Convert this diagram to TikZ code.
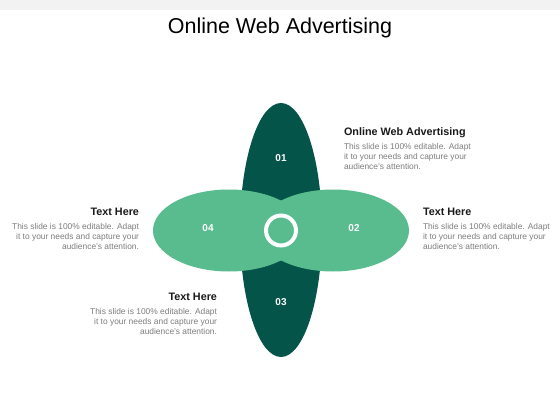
\documentclass[tikz,border=0pt]{standalone}
\usepackage{fontspec}
\setmainfont{Liberation Sans}
\definecolor{darkgreen}{RGB}{4,84,74}
\definecolor{lightgreen}{RGB}{88,188,142}
\definecolor{bodygray}{RGB}{125,125,125}
\definecolor{headblack}{RGB}{26,26,26}
\definecolor{bandgray}{RGB}{242,242,242}
\begin{document}
\begin{tikzpicture}[x=1pt,y=-1pt,
  every node/.style={inner sep=0pt,outer sep=0pt},
  title/.style={font=\fontsize{21.5}{24}\selectfont,text=black,anchor=base},
  head/.style={font=\fontsize{10.8}{12}\bfseries\selectfont,text=headblack},
  body/.style={font=\fontsize{8.4}{10}\selectfont,text=bodygray},
  num/.style={font=\fontsize{10}{12}\bfseries\selectfont,text=white,anchor=center}]
\useasboundingbox (0,0) rectangle (560,420);
\fill[white] (0,0) rectangle (560,420);
\fill[bandgray] (0,0) rectangle (560,10);
\node[title] (title) at (280,34) {Online Web Advertising};
% petals
\fill[darkgreen] (281,230) ellipse [x radius=41, y radius=127];
\fill[lightgreen] (229,230.5) ellipse [x radius=76, y radius=41];
\fill[lightgreen] (333,230.5) ellipse [x radius=76, y radius=41];
\draw[white,line width=4] (281,230.5) circle [radius=15];
\node[num] (n1) at (281,158) {01};
\node[num] (n2) at (354,228.5) {02};
\node[num] (n3) at (281,302) {03};
\node[num] (n4) at (208,228.5) {04};
% top right block
\node[head,anchor=base west] (h1) at (344,135.7) {Online Web Advertising};
\node[body,anchor=base west] (b1a) at (344,149) {This slide is 100\% editable.  Adapt};
\node[body,anchor=base west] (b1b) at (344,159.3) {it to your needs and capture your};
\node[body,anchor=base west] (b1c) at (344,169.3) {audience's attention.};
% right block
\node[head,anchor=base west] (h2) at (423,215.7) {Text Here};
\node[body,anchor=base west] (b2a) at (423,229) {This slide is 100\% editable.  Adapt};
\node[body,anchor=base west] (b2b) at (423,239.3) {it to your needs and capture your};
\node[body,anchor=base west] (b2c) at (423,249.3) {audience's attention.};
% left block
\node[head,anchor=base east] (h4) at (139,215.7) {Text Here};
\node[body,anchor=base east] (b4a) at (139,229) {This slide is 100\% editable.  Adapt};
\node[body,anchor=base east] (b4b) at (139,239.3) {it to your needs and capture your};
\node[body,anchor=base east] (b4c) at (139,249.3) {audience's attention.};
% bottom block
\node[head,anchor=base east] (h3) at (217,300.7) {Text Here};
\node[body,anchor=base east] (b3a) at (217,314) {This slide is 100\% editable.  Adapt};
\node[body,anchor=base east] (b3b) at (217,324.3) {it to your needs and capture your};
\node[body,anchor=base east] (b3c) at (217,334.3) {audience's attention.};
\end{tikzpicture}
\end{document}
